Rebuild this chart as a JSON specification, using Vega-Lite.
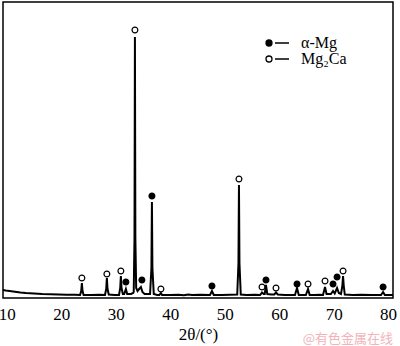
{
  "$schema": "https://vega.github.io/schema/vega-lite/v6.json",
  "width": 390,
  "height": 296,
  "autosize": "none",
  "padding": {"left": 3, "top": 2, "right": 7, "bottom": 48},
  "background": "white",
  "config": {
    "view": {"stroke": "black", "strokeWidth": 1.5},
    "font": "Liberation Serif"
  },
  "title": {
    "text": "@有色金属在线",
    "orient": "bottom",
    "anchor": "end",
    "frame": "group",
    "font": "Noto Sans CJK SC",
    "fontSize": 13,
    "fontWeight": "normal",
    "color": "#f3b3ba",
    "offset": -9
  },
  "datasets": {
    "pattern": [
      {"t": 9.3, "i": 8}, {"t": 9.8, "i": 7.5}, {"t": 10.5, "i": 7}, {"t": 11.5, "i": 6.2}, {"t": 12.5, "i": 5.5},
      {"t": 13.5, "i": 5}, {"t": 15, "i": 4.5}, {"t": 16.5, "i": 4}, {"t": 18, "i": 3.8}, {"t": 19.5, "i": 3.5},
      {"t": 21, "i": 3.3}, {"t": 22.5, "i": 3.2}, {"t": 23.45, "i": 3}, {"t": 23.66, "i": 7}, {"t": 23.78, "i": 15},
      {"t": 23.9, "i": 7}, {"t": 24.1, "i": 3}, {"t": 25.5, "i": 3}, {"t": 27, "i": 3.2}, {"t": 28.02, "i": 3},
      {"t": 28.25, "i": 9}, {"t": 28.37, "i": 20}, {"t": 28.49, "i": 9}, {"t": 28.72, "i": 3.5}, {"t": 29.8, "i": 3},
      {"t": 30.6, "i": 3}, {"t": 30.82, "i": 10}, {"t": 30.94, "i": 22}, {"t": 31.06, "i": 10}, {"t": 31.3, "i": 4},
      {"t": 31.55, "i": 4}, {"t": 31.86, "i": 9}, {"t": 32.1, "i": 4}, {"t": 32.8, "i": 4}, {"t": 33.2, "i": 5},
      {"t": 33.3, "i": 6}, {"t": 33.44, "i": 60}, {"t": 33.52, "i": 261}, {"t": 33.6, "i": 60}, {"t": 33.75, "i": 10},
      {"t": 34.0, "i": 7}, {"t": 34.3, "i": 9}, {"t": 34.62, "i": 11}, {"t": 34.9, "i": 6}, {"t": 35.3, "i": 4},
      {"t": 36.2, "i": 4}, {"t": 36.3, "i": 4}, {"t": 36.55, "i": 30}, {"t": 36.64, "i": 96}, {"t": 36.73, "i": 30},
      {"t": 36.98, "i": 4}, {"t": 37.6, "i": 3}, {"t": 38.0, "i": 3}, {"t": 38.29, "i": 5}, {"t": 38.5, "i": 3},
      {"t": 40, "i": 3}, {"t": 41.5, "i": 3.3}, {"t": 42.5, "i": 2.8}, {"t": 43.3, "i": 3.5}, {"t": 44, "i": 3},
      {"t": 45.5, "i": 3.2}, {"t": 47.3, "i": 3}, {"t": 47.66, "i": 7}, {"t": 48.0, "i": 3}, {"t": 49.5, "i": 3},
      {"t": 51, "i": 3.2}, {"t": 52.3, "i": 3.5}, {"t": 52.53, "i": 35}, {"t": 52.62, "i": 113}, {"t": 52.71, "i": 35},
      {"t": 52.95, "i": 3.5}, {"t": 54, "i": 3}, {"t": 55.5, "i": 3.2}, {"t": 56.5, "i": 3}, {"t": 56.85, "i": 5.5},
      {"t": 57.15, "i": 4}, {"t": 57.35, "i": 4}, {"t": 57.58, "i": 13}, {"t": 57.82, "i": 4}, {"t": 58.6, "i": 3.5},
      {"t": 59.1, "i": 3.5}, {"t": 59.42, "i": 5.5}, {"t": 59.75, "i": 3.5}, {"t": 61, "i": 3}, {"t": 62.9, "i": 3},
      {"t": 63.28, "i": 10}, {"t": 63.6, "i": 3}, {"t": 64.9, "i": 3}, {"t": 65.3, "i": 9}, {"t": 65.6, "i": 3},
      {"t": 66.5, "i": 3}, {"t": 67.5, "i": 3.2}, {"t": 68.05, "i": 3}, {"t": 68.42, "i": 11}, {"t": 68.7, "i": 4},
      {"t": 69.5, "i": 4}, {"t": 69.89, "i": 7}, {"t": 70.2, "i": 4.5}, {"t": 70.63, "i": 10}, {"t": 70.95, "i": 5},
      {"t": 71.35, "i": 4}, {"t": 71.6, "i": 12}, {"t": 71.73, "i": 22}, {"t": 71.86, "i": 12}, {"t": 72.05, "i": 3.5},
      {"t": 73.5, "i": 3}, {"t": 75, "i": 3.2}, {"t": 77, "i": 3}, {"t": 78.7, "i": 3}, {"t": 79.08, "i": 6},
      {"t": 79.4, "i": 3}, {"t": 80.9, "i": 3}
    ],
    "markers": [
      {"t": 23.78, "i": 20, "phase": "Mg₂Ca"},
      {"t": 28.37, "i": 24, "phase": "Mg₂Ca"},
      {"t": 30.94, "i": 27, "phase": "Mg₂Ca"},
      {"t": 31.86, "i": 16, "phase": "α-Mg"},
      {"t": 33.52, "i": 268, "phase": "Mg₂Ca"},
      {"t": 34.8, "i": 18, "phase": "α-Mg"},
      {"t": 36.64, "i": 102, "phase": "α-Mg"},
      {"t": 38.29, "i": 9, "phase": "Mg₂Ca"},
      {"t": 47.66, "i": 12, "phase": "α-Mg"},
      {"t": 52.62, "i": 119, "phase": "Mg₂Ca"},
      {"t": 56.85, "i": 11, "phase": "Mg₂Ca"},
      {"t": 57.58, "i": 18, "phase": "α-Mg"},
      {"t": 59.42, "i": 10, "phase": "Mg₂Ca"},
      {"t": 63.28, "i": 14, "phase": "α-Mg"},
      {"t": 65.3, "i": 14, "phase": "Mg₂Ca"},
      {"t": 68.42, "i": 17, "phase": "Mg₂Ca"},
      {"t": 69.89, "i": 14, "phase": "α-Mg"},
      {"t": 70.63, "i": 21, "phase": "α-Mg"},
      {"t": 71.73, "i": 27, "phase": "Mg₂Ca"},
      {"t": 79.08, "i": 11, "phase": "α-Mg"}
    ]
  },
  "layer": [
    {
      "data": {"name": "pattern"},
      "mark": {"type": "line", "color": "black", "strokeWidth": 2, "strokeJoin": "miter", "interpolate": "linear"},
      "encoding": {
        "x": {
          "field": "t", "type": "quantitative",
          "scale": {"domain": [9.3, 80.9], "nice": false, "zero": false},
          "axis": {
            "values": [10, 20, 30, 40, 50, 60, 70, 80],
            "title": "2θ/(°)",
            "domain": false, "ticks": false, "grid": false,
            "labelFont": "Liberation Serif", "labelFontSize": 17, "labelColor": "black",
            "labelPadding": 8, "labelFlush": false,
            "titleFont": "Liberation Serif", "titleFontSize": 17, "titleFontWeight": "normal",
            "titleColor": "black", "titlePadding": 4
          }
        },
        "y": {
          "field": "i", "type": "quantitative",
          "scale": {"domain": [0, 296], "nice": false, "zero": true},
          "axis": null
        }
      }
    },
    {
      "data": {"name": "markers"},
      "mark": {"type": "point", "shape": "circle", "filled": true, "size": 34, "stroke": "black", "strokeWidth": 1.2, "opacity": 1},
      "encoding": {
        "x": {"field": "t", "type": "quantitative"},
        "y": {"field": "i", "type": "quantitative"},
        "fill": {
          "field": "phase", "type": "nominal",
          "scale": {"domain": ["α-Mg", "Mg₂Ca"], "range": ["black", "white"]},
          "legend": {
            "title": null,
            "orient": "none",
            "legendX": 266.5,
            "legendY": 33,
            "padding": 0,
            "symbolType": "M -2.3,0 A 0.6,0.6 0 1,1 -1.1,0 A 0.6,0.6 0 1,1 -2.3,0 Z M -0.5,0 L 2.3,0",
            "symbolSize": 100,
            "symbolStrokeColor": "black",
            "symbolStrokeWidth": 1.3,
            "symbolOpacity": 1,
            "labelFont": "Liberation Serif",
            "labelFontSize": 16,
            "labelColor": "black",
            "labelOffset": 15.5,
            "rowPadding": 0
          }
        }
      }
    }
  ]
}
